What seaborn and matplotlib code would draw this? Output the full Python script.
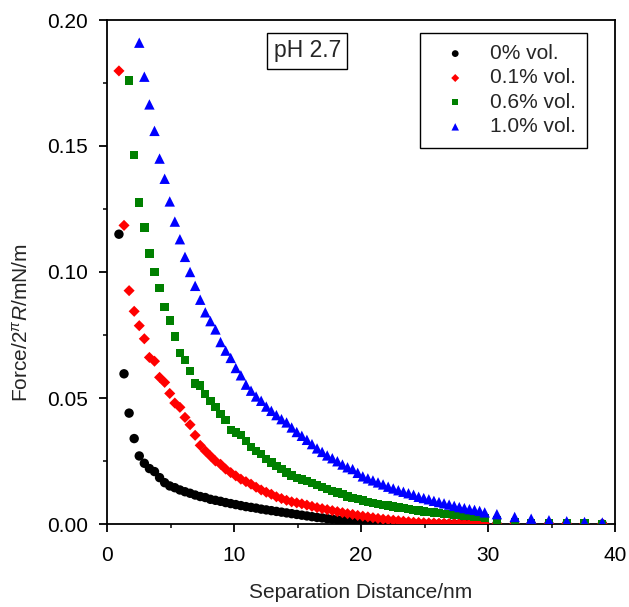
import matplotlib
matplotlib.use("Agg")
import matplotlib.pyplot as plt
from matplotlib.ticker import MultipleLocator
import seaborn as sns
import pandas as pd

# ---- data ----
DIST = [0.94, 1.34, 1.74, 2.14, 2.54, 2.94, 3.34, 3.74, 4.14, 4.54,
        4.94, 5.34, 5.74, 6.14, 6.54, 6.94, 7.34, 7.74, 8.14, 8.54,
        8.94, 9.34, 9.74, 10.14, 10.54, 10.94, 11.34, 11.74, 12.14, 12.54,
        12.94, 13.34, 13.74, 14.14, 14.54, 14.94, 15.34, 15.74, 16.14, 16.54,
        16.94, 17.34, 17.74, 18.14, 18.54, 18.94, 19.34, 19.74, 20.14, 20.54,
        20.94, 21.34, 21.74, 22.14, 22.54, 22.94, 23.34, 23.74, 24.14, 24.54,
        24.94, 25.34, 25.74, 26.14, 26.54, 26.94, 27.34, 27.74, 28.14, 28.54,
        28.94, 29.34, 29.74]
TAIL_DIST = [30.7, 32.1, 33.4, 34.8, 36.2, 37.6, 39.0]

LABELS = ["0% vol.", "0.1% vol.", "0.6% vol.", "1.0% vol."]
START = [0, 0, 2, 4]   # first index in DIST for each series

force_0 = [0.1150, 0.0596, 0.0440, 0.0339, 0.0270, 0.0241, 0.0220, 0.0208, 0.0184, 0.0164,
           0.0151, 0.0144, 0.0135, 0.0128, 0.0122, 0.0115, 0.0109, 0.0105, 0.0098, 0.0094,
           0.0090, 0.0085, 0.0081, 0.0077, 0.0073, 0.0069, 0.0066, 0.0063, 0.0059, 0.0056,
           0.0053, 0.0050, 0.0047, 0.0044, 0.0041, 0.0038, 0.0035, 0.0032, 0.0029, 0.0026,
           0.0024, 0.0021, 0.0019, 0.0017, 0.0015, 0.0013, 0.0011, 0.0009, 0.0008, 0.0006,
           0.0005, 0.0004, 0.0003, 0.0002, 0.0002, 0.0001, 0.0001, 0.0001, 0.0000, 0.0000,
           0.0000, 0.0000, 0.0000, 0.0000, 0.0000, 0.0000, 0.0000, 0.0000, 0.0000, 0.0000,
           0.0000, 0.0000, 0.0000,
           0.0000, 0.0000, 0.0000, 0.0000, 0.0000, 0.0000, 0.0000]

force_01 = [0.1798, 0.1185, 0.0926, 0.0844, 0.0787, 0.0735, 0.0661, 0.0646, 0.0582, 0.0562,
            0.0518, 0.0480, 0.0463, 0.0423, 0.0394, 0.0352, 0.0312, 0.0290, 0.0270, 0.0250,
            0.0237, 0.0218, 0.0204, 0.0191, 0.0178, 0.0168, 0.0158, 0.0146, 0.0135, 0.0126,
            0.0118, 0.0108, 0.0101, 0.0094, 0.0088, 0.0084, 0.0080, 0.0075, 0.0070, 0.0065,
            0.0061, 0.0057, 0.0053, 0.0049, 0.0045, 0.0041, 0.0038, 0.0034, 0.0031, 0.0028,
            0.0025, 0.0022, 0.0019, 0.0017, 0.0015, 0.0013, 0.0011, 0.0009, 0.0007, 0.0006,
            0.0005, 0.0004, 0.0004, 0.0003, 0.0003, 0.0002, 0.0002, 0.0002, 0.0001, 0.0001,
            0.0001, 0.0001, 0.0000,
            0.0000, 0.0000, 0.0000, 0.0000, 0.0000, 0.0000, 0.0000]

force_06 = [0.1760, 0.1465, 0.1276, 0.1177, 0.1073, 0.1000, 0.0937, 0.0862,
            0.0807, 0.0744, 0.0679, 0.0651, 0.0606, 0.0557, 0.0549, 0.0516, 0.0489, 0.0463,
            0.0436, 0.0414, 0.0372, 0.0363, 0.0354, 0.0330, 0.0306, 0.0290, 0.0277, 0.0258,
            0.0244, 0.0231, 0.0218, 0.0205, 0.0192, 0.0182, 0.0177, 0.0170, 0.0163, 0.0156,
            0.0147, 0.0139, 0.0132, 0.0125, 0.0118, 0.0109, 0.0103, 0.0098, 0.0093, 0.0088,
            0.0084, 0.0080, 0.0076, 0.0073, 0.0070, 0.0066, 0.0063, 0.0060, 0.0056, 0.0053,
            0.0050, 0.0047, 0.0045, 0.0043, 0.0041, 0.0039, 0.0037, 0.0035, 0.0033, 0.0031,
            0.0029, 0.0027, 0.0025,
            0.0015, 0.0006, 0.0004, 0.0003, 0.0002, 0.0002, 0.0001]

force_10 = [0.1910, 0.1775, 0.1665, 0.1560, 0.1450, 0.1370,
            0.1280, 0.1200, 0.1130, 0.1060, 0.1000, 0.0945, 0.0890, 0.0840, 0.0805, 0.0772,
            0.0722, 0.0688, 0.0659, 0.0619, 0.0590, 0.0553, 0.0529, 0.0506, 0.0489, 0.0466,
            0.0449, 0.0432, 0.0416, 0.0403, 0.0383, 0.0365, 0.0350, 0.0334, 0.0317, 0.0300,
            0.0286, 0.0272, 0.0261, 0.0249, 0.0236, 0.0225, 0.0218, 0.0203, 0.0189, 0.0181,
            0.0173, 0.0165, 0.0157, 0.0148, 0.0141, 0.0134, 0.0128, 0.0122, 0.0116, 0.0108,
            0.0103, 0.0098, 0.0092, 0.0087, 0.0082, 0.0077, 0.0072, 0.0067, 0.0063, 0.0059,
            0.0056, 0.0052, 0.0046,
            0.0039, 0.0028, 0.0021, 0.0015, 0.0011, 0.0008, 0.0006]

VALUES = [force_0, force_01, force_06, force_10]
COLORS = ["#000000", "#ff0000", "#008000", "#0000ff"]
MARKERS = ["o", "D", "s", "^"]
SIZES = [46, 32, 36, 56]

# ---- build long table ----
rows = []
for lab, st, vals in zip(LABELS, START, VALUES):
    xs = DIST[st:] + TAIL_DIST
    for xv, yv in zip(xs, vals):
        rows.append({"dist": xv, "force": yv, "conc": lab})
df = pd.DataFrame(rows)

sns.set_theme(style="ticks")
plt.rcParams["font.family"] = ["Liberation Sans", "DejaVu Sans"]
plt.rcParams["mathtext.fontset"] = "custom"
plt.rcParams["mathtext.rm"] = "Liberation Sans"
plt.rcParams["mathtext.it"] = "Liberation Sans:italic"

fig = plt.figure(figsize=(6.29, 6.07), dpi=100)
ax = fig.add_axes([107 / 629, 1 - 524 / 607, (615 - 107) / 629, (524 - 20) / 607])

for lab, col, mk, sz in zip(LABELS, COLORS, MARKERS, SIZES):
    sub = df[df["conc"] == lab]
    sns.scatterplot(data=sub, x="dist", y="force", color=col, marker=mk, s=sz,
                    edgecolor="none", linewidth=0, label=lab, ax=ax, zorder=3)

ax.set_xlim(0, 40)
ax.set_ylim(0, 0.20)
ax.xaxis.set_major_locator(MultipleLocator(10))
ax.xaxis.set_minor_locator(MultipleLocator(5))
ax.yaxis.set_major_locator(MultipleLocator(0.05))
ax.yaxis.set_minor_locator(MultipleLocator(0.025))
ax.yaxis.set_major_formatter(matplotlib.ticker.FormatStrFormatter("%.2f"))
ax.tick_params(which="major", direction="out", length=5.8, width=1.3, labelsize=15,
               colors="black", top=False, right=False)
ax.tick_params(which="minor", direction="out", length=3, width=1.3,
               top=False, right=False)
ax.tick_params(axis="x", which="major", pad=10)
ax.tick_params(axis="y", which="major", pad=8)
for sp in ax.spines.values():
    sp.set_visible(True)
    sp.set_linewidth(1.3)
    sp.set_color("black")

ax.set_xlabel("Separation Distance/nm", fontsize=15, labelpad=13)
ax.set_ylabel(r"Force/2$^{\pi}$$\mathit{R}$/mN/m", fontsize=15)
ax.yaxis.set_label_coords(-0.148, 0.40)

leg = ax.legend(loc="upper right", bbox_to_anchor=(0.945, 0.975), borderaxespad=0,
                frameon=True, fancybox=False, fontsize=15, markerscale=0.72,
                handletextpad=0.5, borderpad=0.55, labelspacing=0.26,
                handlelength=2.3)
leg.get_frame().set_edgecolor("black")
leg.get_frame().set_linewidth(1.0)
leg.get_frame().set_alpha(1)

ax.text(0.394, 0.939, "pH 2.7", transform=ax.transAxes, fontsize=16.5,
        ha="center", va="center",
        bbox=dict(boxstyle="square,pad=0.28", facecolor="white", edgecolor="black",
                  linewidth=1.0))

fig.savefig("out.png", dpi=100)
